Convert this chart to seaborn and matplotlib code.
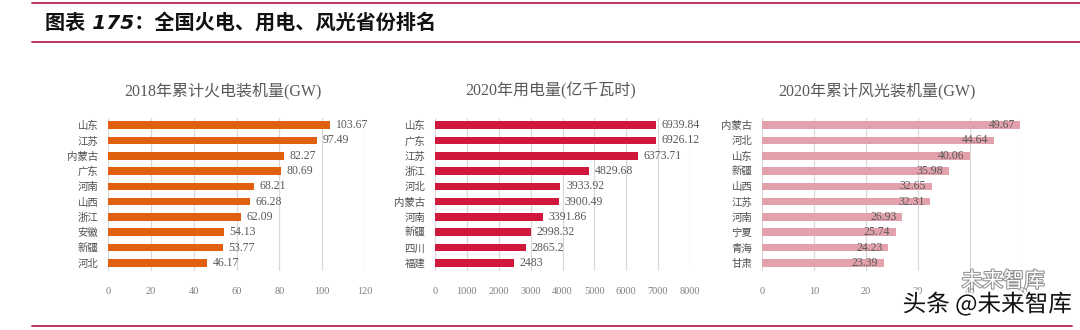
import matplotlib
matplotlib.use("Agg")
import matplotlib.pyplot as plt
import matplotlib.patheffects as pe
import seaborn as sns
import pandas as pd

# ---------------- data ----------------
thermal_provinces = ["山东", "江苏", "内蒙古", "广东", "河南", "山西", "浙江", "安徽", "新疆", "河北"]
thermal_values = [103.67, 97.49, 82.27, 80.69, 68.21, 66.28, 62.09, 54.13, 53.77, 46.17]
thermal_labels = ["103.67", "97.49", "82.27", "80.69", "68.21", "66.28", "62.09", "54.13", "53.77", "46.17"]

power_provinces = ["山东", "广东", "江苏", "浙江", "河北", "内蒙古", "河南", "新疆", "四川", "福建"]
power_values = [6939.84, 6926.12, 6373.71, 4829.68, 3933.92, 3900.49, 3391.86, 2998.32, 2865.2, 2483]
power_labels = ["6939.84", "6926.12", "6373.71", "4829.68", "3933.92", "3900.49", "3391.86", "2998.32", "2865.2", "2483"]

wind_provinces = ["内蒙古", "河北", "山东", "新疆", "山西", "江苏", "河南", "宁夏", "青海", "甘肃"]
wind_values = [49.67, 44.64, 40.06, 35.98, 32.65, 32.31, 26.93, 25.74, 24.23, 23.39]
wind_labels = ["49.67", "44.64", "40.06", "35.98", "32.65", "32.31", "26.93", "25.74", "24.23", "23.39"]

titles = ["2018年累计火电装机量(GW)", "2020年用电量(亿千瓦时)", "2020年累计风光装机量(GW)"]
x_ticks = [[0, 20, 40, 60, 80, 100, 120],
           [0, 1000, 2000, 3000, 4000, 5000, 6000, 7000, 8000],
           [0, 10, 20, 30, 40, 50]]
header = "图表 175：全国火电、用电、风光省份排名"

# ---------------- style ----------------
sns.set_theme(style="white")
FAM = ["Liberation Serif", "Noto Sans CJK SC", "DejaVu Sans"]
CJK = ["Noto Sans CJK SC", "DejaVu Sans"]
plt.rcParams["font.family"] = FAM

fig = plt.figure(figsize=(10.8, 3.3), dpi=100)
W, H = 1080, 330

colors = ["#E0600F", "#D0183C", "#E3A2AB"]
panels = [
    (thermal_provinces, thermal_values, thermal_labels),
    (power_provinces, power_values, power_labels),
    (wind_provinces, wind_values, wind_labels),
]
lefts = [108, 435, 762]
rights = [365, 690, 1022]
title_x = [223, 551, 877]
ax_top, ax_bot = 117.5, 270.5

for i, ((cats, vals, labs), col) in enumerate(zip(panels, colors)):
    ax = fig.add_axes([lefts[i] / W, 1 - ax_bot / H, (rights[i] - lefts[i]) / W, (ax_bot - ax_top) / H])
    df = pd.DataFrame({"prov": cats, "val": vals})
    sns.barplot(data=df, x="val", y="prov", orient="h", color=col, saturation=1,
                width=0.5, linewidth=0, ax=ax, zorder=3)
    ax.set_xlim(x_ticks[i][0], x_ticks[i][-1])
    ax.set_ylim(9.5, -0.5)
    ax.set_xticks(x_ticks[i])
    ax.set_xticklabels([str(t) for t in x_ticks[i]], fontsize=7.5, color="#808080")
    ax.set_yticks(range(len(cats)))
    ax.set_yticklabels(cats, fontsize=7.5, color="#505050", family=CJK)
    ax.tick_params(axis="both", length=0, pad=7)
    ax.tick_params(axis="x", pad=12)
    ax.set_xlabel("")
    ax.set_ylabel("")
    for s in ax.spines.values():
        s.set_visible(False)
    ax.xaxis.grid(True, color="#D9D9D9", linewidth=0.9, zorder=0)
    ax.set_axisbelow(True)
    for j, (v, lab) in enumerate(zip(vals, labs)):
        if i < 2:
            ax.annotate(lab, (v, j), xytext=(4, 0), textcoords="offset points",
                        ha="left", va="center", fontsize=8.5, color="#595959")
        else:
            ax.annotate(lab, (v, j), xytext=(-4, 0), textcoords="offset points",
                        ha="right", va="center", fontsize=8.5, color="#595959")
    fig.text(title_x[i] / W, 1 - 91 / H, titles[i], ha="center", va="center",
             fontsize=11.5, color="#595959")

# ---------------- header ----------------
line_col = "#B5245A"
fig.add_artist(plt.Line2D([32 / W, 1.0], [1 - 2.5 / H, 1 - 2.5 / H], color=line_col, linewidth=1.3))
fig.add_artist(plt.Line2D([32 / W, 1.0], [1 - 42 / H, 1 - 42 / H], color=line_col, linewidth=1.3))
fig.add_artist(plt.Line2D([32 / W, 1072 / W], [1 - 326 / H, 1 - 326 / H], color=line_col, linewidth=1.3))
fig.text(45 / W, 1 - 23 / H, header, ha="left", va="center", fontsize=14.5,
         fontweight="bold", style="italic", color="#111111", family=["DejaVu Sans", "Noto Sans CJK SC"])

# ---------------- watermark ----------------
fig.text(1045 / W, 1 - 281 / H, "未来智库", ha="right", va="center", fontsize=15,
         color="white", family=CJK,
         path_effects=[pe.withStroke(linewidth=1.5, foreground="#909090")])
fig.text(1072 / W, 1 - 304 / H, "头条 @未来智库", ha="right", va="center", fontsize=17,
         color="#111111", family=CJK,
         path_effects=[pe.withStroke(linewidth=3, foreground="white")])

fig.savefig("out.png", dpi=100, facecolor="white")
